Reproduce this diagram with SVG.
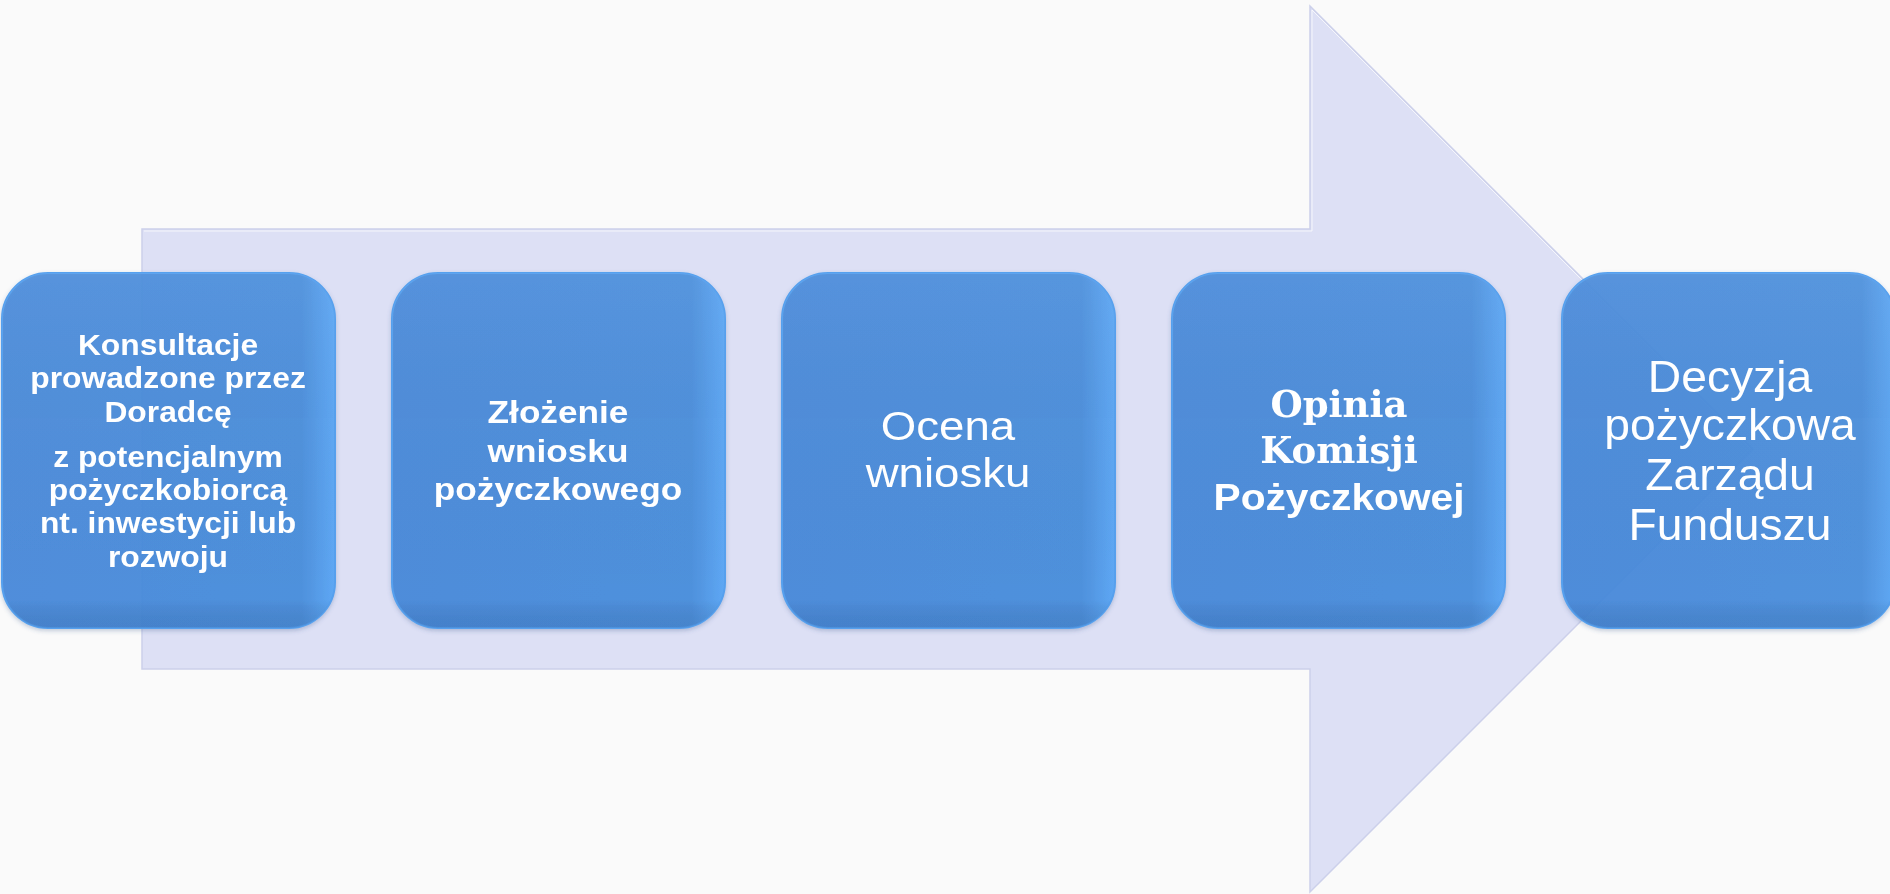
<svg xmlns="http://www.w3.org/2000/svg" width="1890" height="894" viewBox="0 0 1890 894">
  <defs>
    <linearGradient id="boxGrad" x1="0" y1="0" x2="1" y2="0">
      <stop offset="0" stop-color="#4689da"/>
      <stop offset="0.9" stop-color="#478ddc"/>
      <stop offset="1" stop-color="#58a6f6"/>
    </linearGradient>
    <linearGradient id="boxShade" x1="0" y1="0" x2="0" y2="1">
      <stop offset="0" stop-color="#ffffff" stop-opacity="0.05"/>
      <stop offset="0.92" stop-color="#000000" stop-opacity="0"/>
      <stop offset="1" stop-color="#1d3f7a" stop-opacity="0.15"/>
    </linearGradient>
    <filter id="soft" x="-5%" y="-5%" width="110%" height="112%">
      <feDropShadow dx="0" dy="2" stdDeviation="2" flood-color="#3a5688" flood-opacity="0.3"/>
    </filter>
  </defs>
  <style>
    .box { fill: url(#boxGrad); fill-opacity: 0.93; stroke: #56a0ee; stroke-width: 2; }
    .shade { fill: url(#boxShade); stroke: none; }
    .t { fill: #ffffff; text-anchor: middle; font-family: "Liberation Sans", Arial, sans-serif; }
    .b { font-weight: bold; }
    .serif { font-family: "DejaVu Serif", "Liberation Serif", serif; font-weight: bold; }
  </style>
  <rect x="0" y="0" width="1890" height="894" fill="#fafafa"/>

  <g id="connectors">
    <polygon id="arrow" points="142,229 1310,229 1310,6 1753,449 1310,892 1310,669 142,669" fill="#dde0f5" stroke="#ccd0ea" stroke-width="1.5" stroke-linejoin="miter"/>
    <polyline points="144,231 1312,231 1312,10 1750,448" fill="none" stroke="#ffffff" stroke-opacity="0.7" stroke-width="1"/>
  </g>

  <g id="node1" filter="url(#soft)">
    <rect class="box" x="2" y="273" width="333" height="355" rx="46"/>
    <rect class="shade" x="2" y="273" width="333" height="355" rx="46"/>
    <g transform="translate(168,0) scale(1.06,1)">
      <text class="t b" font-size="30"><tspan x="0" y="355">Konsultacje</tspan><tspan x="0" y="388">prowadzone przez</tspan><tspan x="0" y="422">Doradcę</tspan><tspan x="0" y="467">z potencjalnym</tspan><tspan x="0" y="500">pożyczkobiorcą</tspan><tspan x="0" y="533">nt. inwestycji lub</tspan><tspan x="0" y="567">rozwoju</tspan></text>
    </g>
  </g>

  <g id="node2" filter="url(#soft)">
    <rect class="box" x="392" y="273" width="333" height="355" rx="46"/>
    <rect class="shade" x="392" y="273" width="333" height="355" rx="46"/>
    <g transform="translate(558,0) scale(1.1,1)">
      <text class="t b" font-size="32"><tspan x="0" y="423">Złożenie</tspan><tspan x="0" y="462">wniosku</tspan><tspan x="0" y="500">pożyczkowego</tspan></text>
    </g>
  </g>

  <g id="node3" filter="url(#soft)">
    <rect class="box" x="782" y="273" width="333" height="355" rx="46"/>
    <rect class="shade" x="782" y="273" width="333" height="355" rx="46"/>
    <g transform="translate(948,0) scale(1.14,1)">
      <text class="t" font-size="40"><tspan x="0" y="440">Ocena</tspan><tspan x="0" y="487">wniosku</tspan></text>
    </g>
  </g>

  <g id="node4" filter="url(#soft)">
    <rect class="box" x="1172" y="273" width="333" height="355" rx="46"/>
    <rect class="shade" x="1172" y="273" width="333" height="355" rx="46"/>
    <text class="t serif" font-size="37" x="1339" y="417">Opinia</text>
    <text class="t serif" font-size="37" x="1339" y="463">Komisji</text>
    <g transform="translate(1339,0) scale(1.1,1)">
      <text class="t b" font-size="37" x="0" y="510">Pożyczkowej</text>
    </g>
  </g>

  <g id="node5" filter="url(#soft)">
    <rect class="box" x="1562" y="273" width="333" height="355" rx="46"/>
    <rect class="shade" x="1562" y="273" width="333" height="355" rx="46"/>
    <g transform="translate(1730,0) scale(1.05,1)">
      <text class="t" font-size="44"><tspan x="0" y="392">Decyzja</tspan><tspan x="0" y="440">pożyczkowa</tspan><tspan x="0" y="490">Zarządu</tspan><tspan x="0" y="540">Funduszu</tspan></text>
    </g>
  </g>
</svg>
